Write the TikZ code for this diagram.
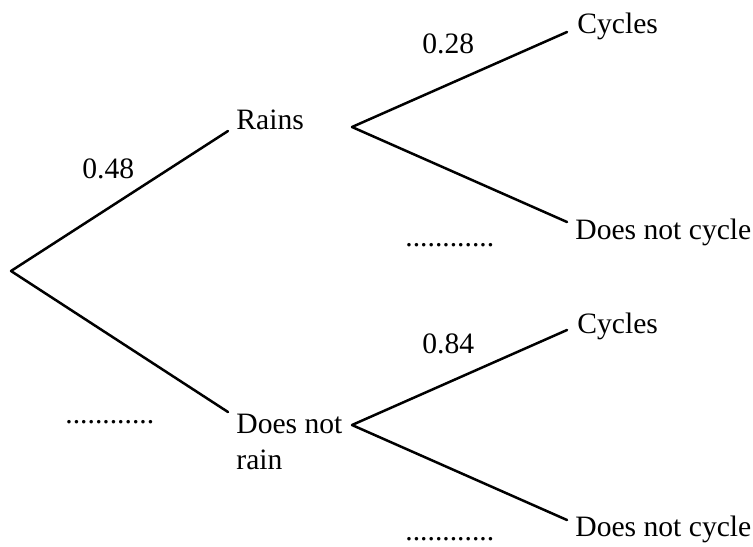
\documentclass[tikz,border=0pt]{standalone}
\usepackage{fontspec}
\setmainfont{Liberation Serif}
\tikzstyle{branch} = [line width=1.25pt, line cap=round, line join=round]
\tikzstyle{lbl} = [inner sep=0pt, anchor=base west, font=\fontsize{14.8}{18}\selectfont]
\begin{document}
\begin{tikzpicture}[x=0.5pt, y=-0.5pt]
                \useasboundingbox (0,0) rectangle (753,546);
                % joints of the tree
                \coordinate (root) at (11,271);
                \coordinate (rainsend) at (228,131);
                \coordinate (dryend) at (228,412);
                \coordinate (rainsfork) at (352,127);
                \coordinate (dryfork) at (352,425);
                \coordinate (rcycend) at (567,32);
                \coordinate (rnocycend) at (567,222);
                \coordinate (dcycend) at (567,330);
                \coordinate (dnocycend) at (567,520);
                % outcomes
                \node[lbl] (rains) at (236,129) {Rains};
                \node[lbl, anchor=north west, align=left] (dry) at (236,414) {Does not\\rain};
                \node[lbl] (rcyc) at (577,33) {Cycles};
                \node[lbl] (rnocyc) at (575,239) {Does not cycle};
                \node[lbl] (dcyc) at (577,333) {Cycles};
                \node[lbl] (dnocyc) at (575,536) {Does not cycle};
                % probabilities
                \node[lbl] (p1) at (82,178) {0.48};
                \node[lbl] (p2) at (65,423) {............};
                \node[lbl] (p3) at (422,53) {0.28};
                \node[lbl] (p4) at (405,246) {............};
                \node[lbl] (p5) at (422,353) {0.84};
                \node[lbl] (p6) at (405,540) {............};
                % branches
                \draw[branch] (rainsend) -- (root) -- (dryend);
                \draw[branch] (rcycend) -- (rainsfork) -- (rnocycend);
                \draw[branch] (dcycend) -- (dryfork) -- (dnocycend);
            \end{tikzpicture}
\end{document}
